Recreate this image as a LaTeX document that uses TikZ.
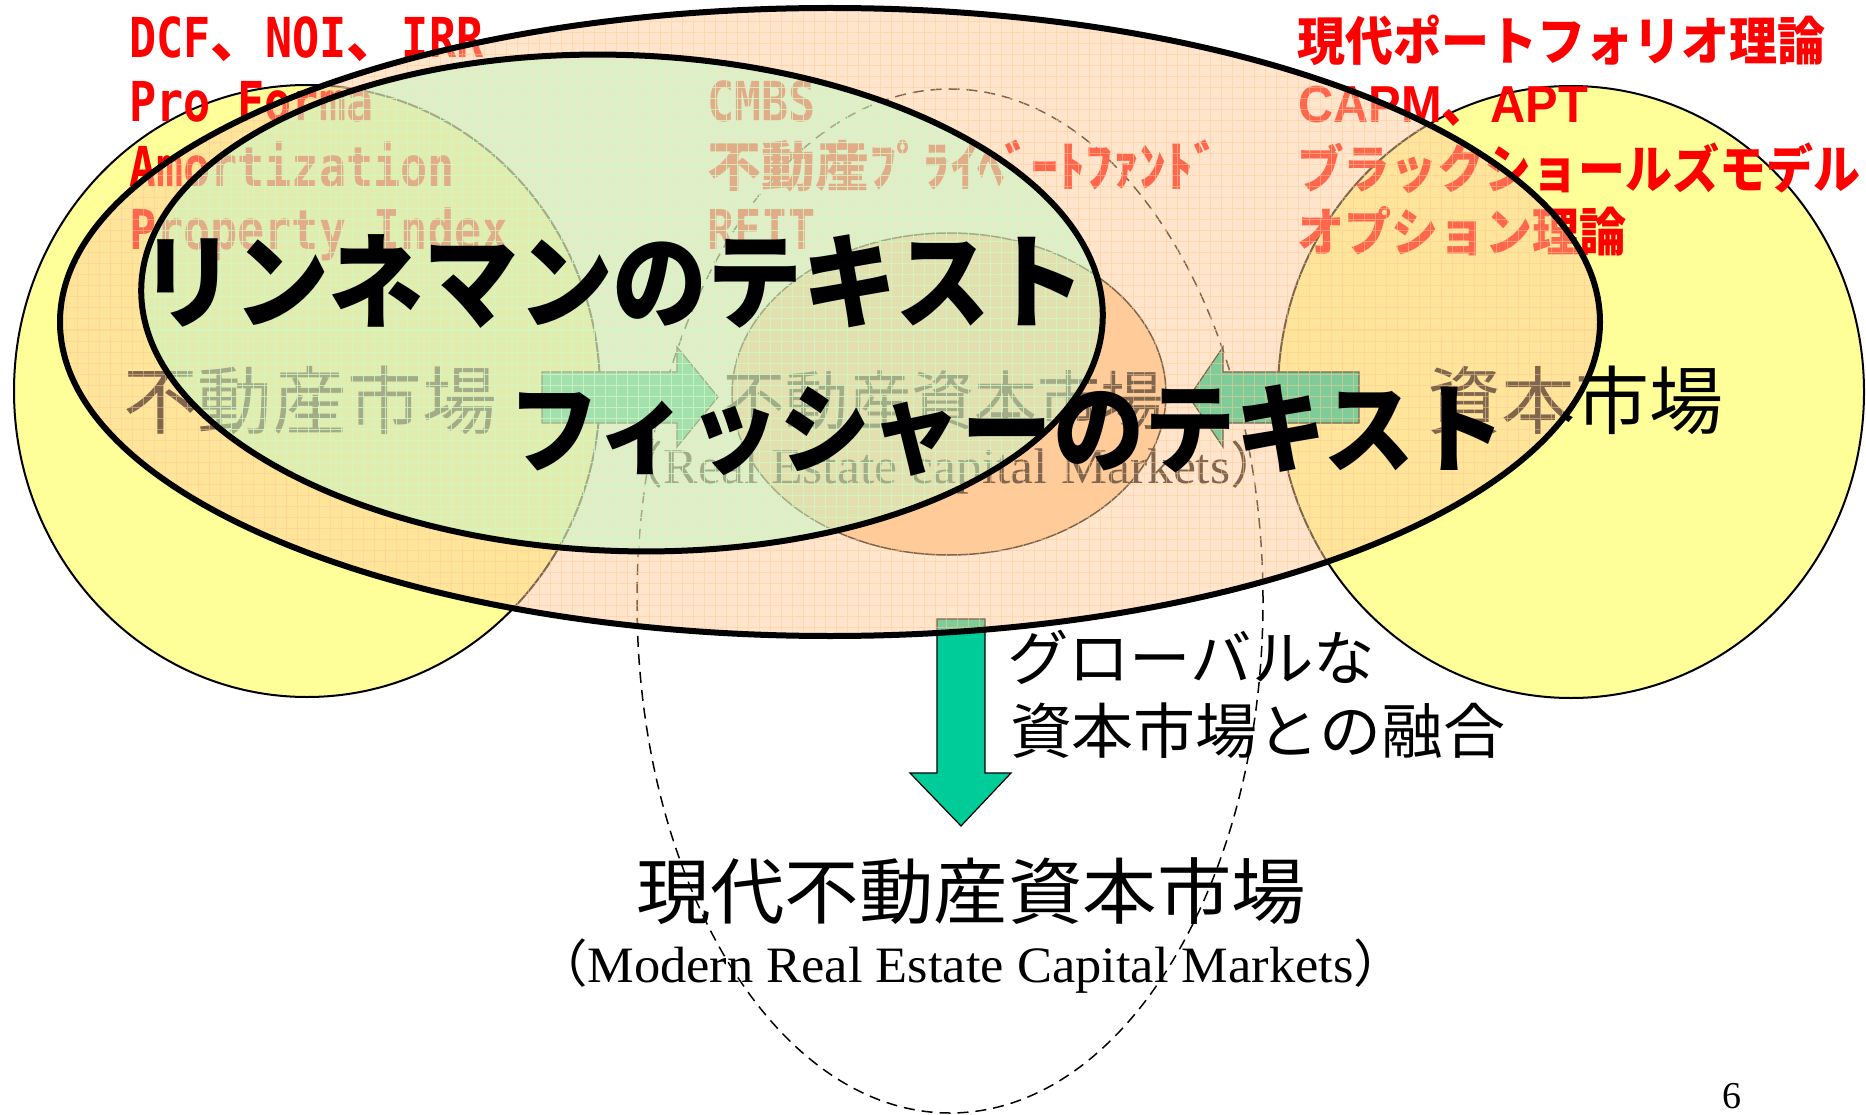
\documentclass[tikz,border=0pt]{standalone}
\usepackage{fontspec}
\usepackage{graphicx}
\setmainfont{Liberation Serif}
\newfontfamily\jp{Noto Sans CJK JP}
\newfontfamily\monof{DejaVu Sans Mono}
\newfontfamily\arialf{Liberation Sans}
\definecolor{yel}{HTML}{FFFF99}
\definecolor{peach}{HTML}{FFCC99}
\definecolor{mintov}{HTML}{C4F5C4}
\definecolor{mintgrid}{HTML}{CCFFCC}
\definecolor{arrowgreen}{HTML}{00CC99}
\definecolor{redtxt}{HTML}{FF0000}
\newcommand\fitw[2]{\resizebox{#1}{\height}{#2}}
\newcommand\mt[1]{\scalebox{0.82}[1]{#1}}
\tikzset{
  every node/.style={inner sep=0pt, outer sep=0pt},
  yellowdisc/.style={fill=yel, draw=black, line width=2pt},
  orangedisc/.style={fill=peach, draw=black, line width=1.5pt},
  thickring/.style={draw=black, line width=6pt},
  dashring/.style={draw=black, line width=1.5pt, dash pattern=on 11pt off 7pt},
  blockarrow/.style={fill=arrowgreen, draw=black, line width=1.2pt, line join=miter},
  peachgrid/.style={draw=peach, line width=1pt, opacity=0.5},
  mintgridline/.style={draw=mintgrid, line width=1pt, opacity=0.6},
  redmono/.style={text=redtxt, anchor=base west, font={\fontsize{55pt}{60pt}\selectfont\monof\bfseries}},
  redjp/.style={text=redtxt, font={\fontsize{52pt}{52pt}\selectfont\jp\bfseries}},
  jpfont/.style={text=black, font={\fontsize{#1pt}{#1pt}\selectfont\jp}},
  jptitle/.style={text=black, font={\fontsize{#1pt}{#1pt}\selectfont\jp\bfseries}},
  serif/.style={text=black, font={\fontsize{#1pt}{#1pt}\selectfont\rmfamily}},
}
\begin{document}
\begin{tikzpicture}[x=1pt,y=-1pt]
\useasboundingbox (0,0) rectangle (1866,1115);
\fill[white] (0,0) rectangle (1866,1115);

% yellow markets
\path[yellowdisc] (307,391) ellipse [x radius=293pt, y radius=306pt];
\path[yellowdisc] (1571,392) ellipse [x radius=293pt, y radius=306pt];
% central real estate capital market
\path[orangedisc] (949,394) ellipse [x radius=217pt, y radius=161pt];
% dashed modern market
\path[dashring] (950,601) ellipse [x radius=313pt, y radius=512pt];

% block arrows
\path[blockarrow] (542,372) -- (677,372) -- (677,347) -- (718,397) -- (677,447) -- (677,423) -- (542,423) -- cycle;
\path[blockarrow] (1359,372) -- (1223,372) -- (1223,347) -- (1189,397) -- (1223,447) -- (1223,423) -- (1359,423) -- cycle;
\path[blockarrow] (937,619) -- (985,619) -- (985,773) -- (1011,773) -- (961,826) -- (910,773) -- (937,773) -- cycle;

% red technique lists
\node[redmono] (dcf) at (129,58) {\mt{DCF}{\jp 、}\mt{NOI}{\jp 、}\mt{IRR}};
\node[redmono] (proforma) at (129,122) {\mt{Pro Forma}};
\node[redmono] (amort) at (129,187) {\mt{Amortization}};
\node[redmono] (propidx) at (129,250) {\mt{Property Index}};
\node[redmono] (cmbs) at (707,122) {\mt{CMBS}};
\node[redmono] (fund) at (707,187) {{\fontsize{54pt}{54pt}\selectfont\jp 不動産ﾌﾟﾗｲﾍﾞｰﾄﾌｧﾝﾄﾞ}};
\node[redmono] (reit) at (707,250) {\mt{REIT}};

\node[redjp, anchor=west] (mpt) at (1297,40) {\fitw{528pt}{現代ポートフォリオ理論}};
\node[redjp, anchor=base west] (capm) at (1298,123) {\fitw{290pt}{{\arialf\bfseries CAPM}、{\arialf\bfseries APT}}};
\node[redjp, anchor=west] (bs) at (1297,168) {\fitw{563pt}{ブラックショールズモデル}};
\node[redjp, anchor=west] (opt) at (1297,231) {\fitw{330pt}{オプション理論}};

% market labels
\node[jpfont=74, anchor=west] (remkt) at (123,400) {\fitw{374pt}{不動産市場}};
\node[jpfont=64, anchor=west] (recap) at (722,400) {\fitw{441pt}{不動産資本市場}};
\node[jpfont=74, anchor=west] (capmkt) at (1427,400) {\fitw{296pt}{資本市場}};
\node[serif=50, anchor=base west] (recapen) at (612,483) {\fitw{670pt}{{\jp （}Real Estate capital Markets{\jp ）}}};

% outer ellipse (Fisher)
\fill[peach, fill opacity=0.5] (830,322) ellipse [x radius=770pt, y radius=314pt];
\begin{scope}
  \clip (830,322) ellipse [x radius=770pt, y radius=314pt];
  \draw[peachgrid, step=11pt] (0,1115) grid (1866,0);
\end{scope}
\path[thickring] (830,322) ellipse [x radius=770pt, y radius=314pt];

% inner ellipse (Linneman)
\begin{scope}[rotate around={-2:(622,303)}]
  \fill[mintov, fill opacity=0.5] (622,303) ellipse [x radius=481pt, y radius=248pt];
\end{scope}
\begin{scope}
  \clip[rotate around={-2:(622,303)}] (622,303) ellipse [x radius=481pt, y radius=248pt];
  \draw[mintgridline, step=11pt] (0,1115) grid (1866,0);
\end{scope}
\path[thickring, rotate around={-2:(622,303)}] (622,303) ellipse [x radius=481pt, y radius=248pt];

% text titles
\node[jptitle=104, anchor=west] (linneman) at (140,282) {\fitw{945pt}{リンネマンのテキスト}};
\node[jptitle=98, anchor=west] (fisher) at (508,431) {\fitw{998pt}{フィッシャーのテキスト}};

% lower part
\node[jpfont=60, anchor=west] (global) at (1007,657) {\fitw{368pt}{グローバルな}};
\node[jpfont=60, anchor=west] (merge) at (1010,731) {\fitw{495pt}{資本市場との融合}};
\node[jpfont=72, anchor=west] (modern) at (636,891) {\fitw{670pt}{現代不動産資本市場}};
\node[serif=51, anchor=base west] (modernen) at (535,982) {\fitw{871pt}{{\jp （}Modern Real Estate Capital Markets{\jp ）}}};
\node[serif=38, anchor=base west] (page) at (1722,1108) {6};
\end{tikzpicture}
\end{document}
